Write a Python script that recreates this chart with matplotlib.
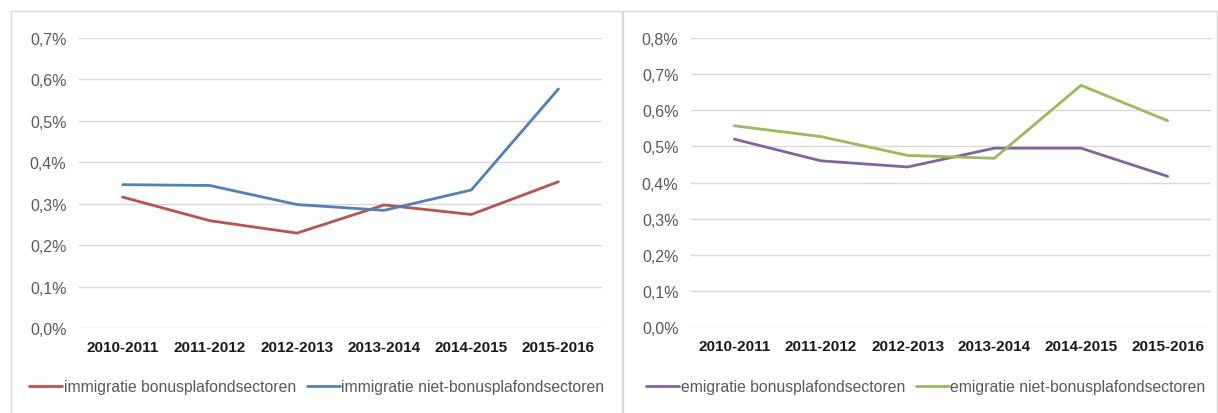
import matplotlib
matplotlib.use("Agg")
import matplotlib.pyplot as plt
from matplotlib.patches import Rectangle
from matplotlib.ticker import FuncFormatter

# ── data (percent) ────────────────────────────────────────────────────────────
years = ["2010-2011", "2011-2012", "2012-2013", "2013-2014", "2014-2015", "2015-2016"]
immi_bonus = [0.316, 0.259, 0.229, 0.297, 0.274, 0.353]
immi_niet = [0.346, 0.344, 0.298, 0.284, 0.333, 0.577]
emi_bonus = [0.520, 0.460, 0.443, 0.495, 0.495, 0.417]
emi_niet = [0.557, 0.527, 0.475, 0.467, 0.669, 0.571]

RED, BLUE, PURPLE, GREEN = "#c0504d", "#4f81bd", "#8064a2", "#9bbb59"
GRID, TICK, BORDER = "#d9d9d9", "#595959", "#d9d9d9"

plt.rcParams["font.family"] = ["Liberation Sans", "DejaVu Sans"]

W, H = 1218, 414
fig = plt.figure(figsize=(W / 100, H / 100), dpi=100)
fig.patch.set_facecolor("white")


def px_axes(x0, x1, ytop, ybot):
    return fig.add_axes([x0 / W, (H - ybot) / H, (x1 - x0) / W, (ybot - ytop) / H])


# panel frames
for x0, x1 in ((11, 622), (623, 1217)):
    fig.add_artist(Rectangle((x0 / W, -0.05), (x1 - x0) / W, (H - 12) / H + 0.05,
                             transform=fig.transFigure, fill=False,
                             edgecolor=BORDER, lw=1.0))

pct = FuncFormatter(lambda v, _: f"{v:.1f}%".replace(".", ","))


def panel(ax, series, ymax, legend_x):
    x = range(len(years))
    for vals, col, lab in series:
        ax.plot(x, vals, color=col, lw=2.0, label=lab, solid_capstyle="round")
    ax.set_xlim(-0.5, len(years) - 0.5)
    ax.set_ylim(0, ymax)
    ax.set_yticks([i / 10 for i in range(int(round(ymax * 10)) + 1)])
    ax.yaxis.set_major_formatter(pct)
    ax.set_xticks(list(x))
    ax.set_xticklabels(years, fontsize=11, fontweight="bold", color="#1a1a1a")
    ax.tick_params(axis="y", labelsize=11.5, labelcolor=TICK, length=0, pad=9)
    ax.tick_params(axis="x", length=0, pad=9)
    ax.grid(axis="y", color=GRID, lw=1.0)
    ax.set_axisbelow(True)
    for s in ax.spines.values():
        s.set_visible(False)
    ax.legend(loc="center left", bbox_to_anchor=(legend_x / W, (H - 388) / H),
              bbox_transform=fig.transFigure, ncol=2, frameon=False,
              fontsize=11.3, labelcolor=TICK, handlelength=2.1, handletextpad=0.1,
              columnspacing=0.7, borderaxespad=0, borderpad=0)


ax1 = px_axes(79, 602, 39, 329)
panel(ax1, [(immi_bonus, RED, "immigratie bonusplafondsectoren"),
            (immi_niet, BLUE, "immigratie niet-bonusplafondsectoren")], 0.7, 29)

ax2 = px_axes(691, 1211, 39, 328)
panel(ax2, [(emi_bonus, PURPLE, "emigratie bonusplafondsectoren"),
            (emi_niet, GREEN, "emigratie niet-bonusplafondsectoren")], 0.8, 646)

fig.savefig("out.png", dpi=100)
